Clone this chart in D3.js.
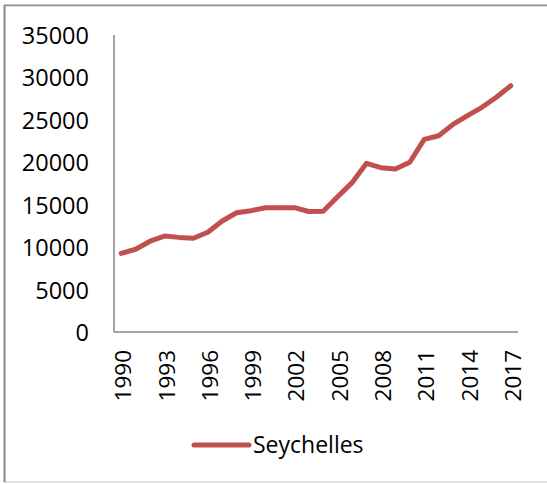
<!DOCTYPE html>
<html>
<head>
<meta charset="utf-8">
<script src="https://cdn.jsdelivr.net/npm/d3@7"></script>
<style>
  html, body { margin: 0; padding: 0; background: #fff; }
  svg { display: block; }
  text { font-family: "Open Sans", "Liberation Sans", sans-serif; fill: #000; }
</style>
</head>
<body>
<svg id="chart" width="547" height="484"></svg>
<script>
const years = [1990,1991,1992,1993,1994,1995,1996,1997,1998,1999,2000,2001,2002,2003,2004,2005,2006,2007,2008,2009,2010,2011,2012,2013,2014,2015,2016,2017];
const seychelles = [9270,9750,10700,11300,11150,11050,11750,13080,14050,14300,14650,14650,14650,14200,14230,15950,17600,19880,19360,19210,20000,22700,23130,24470,25490,26480,27660,29020];
const yTicks = [0,5000,10000,15000,20000,25000,30000,35000];
const xTickLabels = ["1990","1993","1996","1999","2002","2005","2008","2011","2014","2017"];
const seriesName = "Seychelles";

(function () {
const svg = d3.select("#chart");
const pLeft = 114, pRight = 518, pTop = 35, pBottom = 332;

// outer border
svg.append("rect").attr("x", 4.5).attr("y", 5).attr("width", 560).attr("height", 477)
  .attr("fill", "none").attr("stroke", "#d9d9d9").attr("stroke-width", 1.5);
svg.append("line").attr("x1", 4.5).attr("x2", 4.5).attr("y1", 5).attr("y2", 482)
  .attr("stroke", "#8c8c8c").attr("stroke-width", 2);
svg.append("line").attr("x1", 4).attr("x2", 547).attr("y1", 5.5).attr("y2", 5.5)
  .attr("stroke", "#8c8c8c").attr("stroke-width", 1.5);

const x = d3.scaleBand().domain(years).range([pLeft, pRight]).padding(0);
const y = d3.scaleLinear().domain([0, 35000]).range([pBottom, pTop]);
const cx = d => x(d) + x.bandwidth() / 2;

// y axis labels
const yAxis = d3.axisLeft(y).tickValues(yTicks).tickSize(0).tickPadding(25).tickFormat(d3.format("d"));
const gy = svg.append("g").attr("transform", `translate(${pLeft},0)`).call(yAxis);
gy.select(".domain").remove();
gy.attr("font-family", null).attr("font-size", null);
gy.selectAll("text").style("font-size", "23.5px").attr("dy", "0.36em");

// x axis labels
const xAxis = d3.axisBottom(x).tickValues(xTickLabels.map(Number)).tickSize(0).tickFormat(d => String(d));
const gx = svg.append("g").attr("transform", `translate(0,${pBottom})`).call(xAxis);
gx.select(".domain").remove();
gx.attr("font-family", null).attr("font-size", null);
gx.selectAll("text")
  .style("font-size", "22.5px")
  .attr("text-anchor", "end")
  .attr("transform", "translate(2,18) rotate(-90)")
  .attr("x", 0).attr("y", 0).attr("dy", "0.36em");

// axis lines
svg.append("line").attr("x1", pLeft).attr("x2", pLeft).attr("y1", pTop).attr("y2", pBottom)
  .attr("stroke", "#868686").attr("stroke-width", 1.5);
svg.append("line").attr("x1", pLeft).attr("x2", pRight).attr("y1", pBottom).attr("y2", pBottom)
  .attr("stroke", "#868686").attr("stroke-width", 1.5);

// line
const line = d3.line().x((d, i) => cx(years[i])).y(d => y(d));
svg.append("path").datum(seychelles).attr("d", line)
  .attr("fill", "none").attr("stroke", "#C0504D").attr("stroke-width", 5)
  .attr("stroke-linejoin", "round").attr("stroke-linecap", "round");

// legend
const lg = svg.append("g").attr("transform", "translate(194,445)");
lg.append("line").attr("x1", 0).attr("x2", 55).attr("y1", 0).attr("y2", 0)
  .attr("stroke", "#C0504D").attr("stroke-width", 5).attr("stroke-linecap", "round");
lg.append("text").attr("x", 59).attr("y", 0).attr("dy", "0.36em")
  .style("font-size", "23px").text(seriesName);
})();
</script>
</body>
</html>
